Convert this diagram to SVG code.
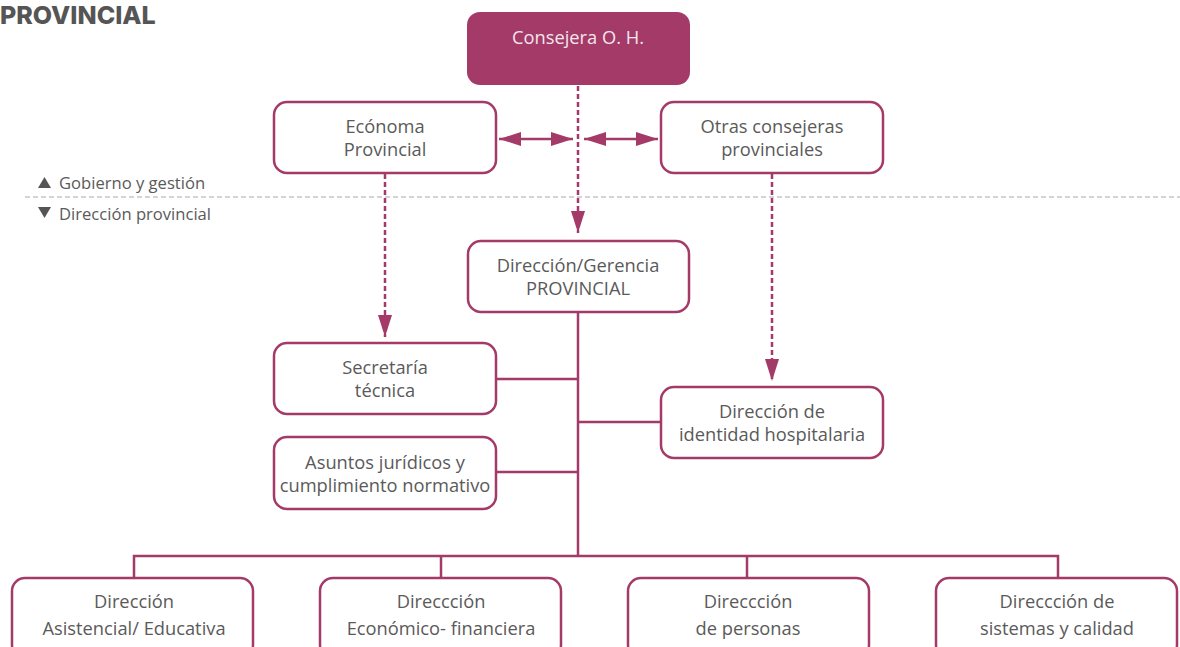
<svg xmlns="http://www.w3.org/2000/svg" width="1180" height="647" viewBox="0 0 1180 647">
<defs>
<style>
.box{fill:#fff;stroke:#A33A68;stroke-width:2.5}
.t{font-family:"Open Sans","Liberation Sans",sans-serif;font-size:18.3px;fill:#5a5a5a;text-anchor:middle}
.sol{stroke:#A33A68;stroke-width:2.5;fill:none}
.dash{stroke:#A33A68;stroke-width:2.5;fill:none;stroke-dasharray:5 3}
.lg{font-family:"Open Sans","Liberation Sans",sans-serif;font-size:16.6px;fill:#5a5a5a}
</style>
<marker id="ah2" viewBox="0 0 22 14" refX="22" refY="7" markerWidth="22" markerHeight="14" orient="auto-start-reverse" markerUnits="userSpaceOnUse">
<path d="M0,0 L22,7 L0,14 z" fill="#A33A68"/>
</marker>
</defs>
<rect width="1180" height="647" fill="#fff"/>
<text x="0" y="24" font-family="Inter,'Liberation Sans',sans-serif" font-weight="800" font-size="25" fill="#555">PROVINCIAL</text>
<g id="legend">
<line x1="25" y1="197" x2="1180" y2="197" stroke="#aaa" stroke-width="1.2" stroke-dasharray="5 3"/>
<path d="M38,188 L44.5,177 L51,188 z" fill="#555"/>
<text class="lg" x="59" y="189">Gobierno y gestión</text>
<path d="M38,207 L44.5,218 L51,207 z" fill="#555"/>
<text class="lg" x="59" y="220">Dirección provincial</text>
</g>
<g id="connectors">
<line class="dash" x1="578" y1="86" x2="578" y2="233" marker-end="url(#ah2)"/>
<line class="dash" x1="385" y1="174" x2="385" y2="337" marker-end="url(#ah2)"/>
<line class="dash" x1="772" y1="174" x2="772" y2="381" marker-end="url(#ah2)"/>
<line class="sol" x1="499" y1="139" x2="573" y2="139" marker-start="url(#ah2)" marker-end="url(#ah2)"/>
<line class="sol" x1="584" y1="139" x2="658" y2="139" marker-start="url(#ah2)" marker-end="url(#ah2)"/>
<line class="sol" x1="578" y1="312" x2="578" y2="556"/>
<line class="sol" x1="496" y1="379" x2="578" y2="379"/>
<line class="sol" x1="578" y1="422" x2="661" y2="422"/>
<line class="sol" x1="496" y1="472" x2="578" y2="472"/>
<polyline class="sol" points="134,578 134,556 1058,556 1058,578"/>
<line class="sol" x1="441" y1="556" x2="441" y2="578"/>
<line class="sol" x1="747" y1="556" x2="747" y2="578"/>
</g>
<g id="consejera">
<rect x="467" y="12" width="223" height="73" rx="13" fill="#A33A68"/>
<text class="t" x="578" y="44" style="fill:#f3e6ec">Consejera O. H.</text>
</g>
<g id="economa">
<rect class="box" x="274" y="102" width="222" height="71" rx="13"/>
<text class="t" x="385" y="133">Ecónoma</text>
<text class="t" x="385" y="156">Provincial</text>
</g>
<g id="otras">
<rect class="box" x="661" y="102" width="222" height="71" rx="13"/>
<text class="t" x="772" y="133">Otras consejeras</text>
<text class="t" x="772" y="156">provinciales</text>
</g>
<g id="direccion-gerencia">
<rect class="box" x="468" y="241" width="221" height="71" rx="13"/>
<text class="t" x="578" y="272">Dirección/Gerencia</text>
<text class="t" x="578" y="295">PROVINCIAL</text>
</g>
<g id="secretaria">
<rect class="box" x="274" y="343" width="222" height="71" rx="13"/>
<text class="t" x="385" y="374">Secretaría</text>
<text class="t" x="385" y="397">técnica</text>
</g>
<g id="asuntos">
<rect class="box" x="274" y="437" width="222" height="72" rx="13"/>
<text class="t" x="385" y="469">Asuntos jurídicos y</text>
<text class="t" x="385" y="492">cumplimiento normativo</text>
</g>
<g id="identidad">
<rect class="box" x="661" y="387" width="222" height="71" rx="13"/>
<text class="t" x="772" y="418">Dirección de</text>
<text class="t" x="772" y="441">identidad hospitalaria</text>
</g>
<g id="asistencial">
<rect class="box" x="12" y="578" width="241" height="80" rx="13"/>
<text class="t" x="134" y="608">Dirección</text>
<text class="t" x="134" y="635">Asistencial/ Educativa</text>
</g>
<g id="economico">
<rect class="box" x="320" y="578" width="241" height="80" rx="13"/>
<text class="t" x="441" y="608">Direccción</text>
<text class="t" x="441" y="635">Económico- financiera</text>
</g>
<g id="personas">
<rect class="box" x="628" y="578" width="241" height="80" rx="13"/>
<text class="t" x="748" y="608">Direccción</text>
<text class="t" x="748" y="635">de personas</text>
</g>
<g id="sistemas">
<rect class="box" x="936" y="578" width="241" height="80" rx="13"/>
<text class="t" x="1057" y="608">Direccción de</text>
<text class="t" x="1057" y="635">sistemas y calidad</text>
</g>
</svg>
